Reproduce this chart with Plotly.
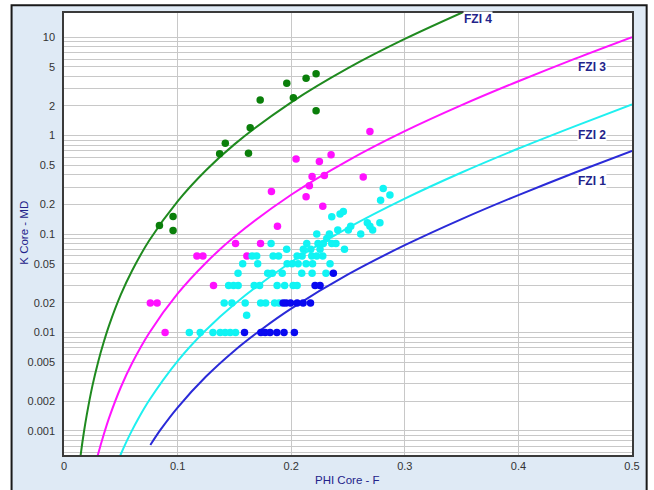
import plotly.graph_objects as go
import math

# ---- FZI reference curves ----
phi_fzi4 = [0.012, 0.015, 0.0175, 0.02, 0.025, 0.03, 0.035, 0.04, 0.05, 0.06, 0.075, 0.1, 0.125, 0.15, 0.2, 0.25, 0.3, 0.35, 0.36]
k_fzi4 = [0.00031, 0.00061, 0.00097, 0.00145, 0.00287, 0.0050, 0.0080, 0.0121, 0.0242, 0.0426, 0.086, 0.215, 0.445, 0.815, 2.18, 4.85, 9.6, 17.7, 19.9]

phi_fzi3 = [0.028, 0.03, 0.035, 0.04, 0.05, 0.06, 0.075, 0.1, 0.125, 0.15, 0.2, 0.25, 0.3, 0.35, 0.4, 0.45, 0.5]
k_fzi3 = [0.00047, 0.00058, 0.00092, 0.00139, 0.00278, 0.0049, 0.0099, 0.0248, 0.0512, 0.0938, 0.251, 0.558, 1.11, 2.04, 3.57, 6.05, 10.0]

phi_fzi2 = [0.045, 0.05, 0.055, 0.06, 0.065, 0.075, 0.1, 0.125, 0.15, 0.2, 0.25, 0.3, 0.35, 0.4, 0.45, 0.5]
k_fzi2 = [0.00042, 0.00058, 0.00078, 0.00102, 0.00131, 0.00205, 0.00513, 0.0106, 0.0194, 0.052, 0.1155, 0.229, 0.422, 0.739, 1.25, 2.08]

phi_fzi1 = [0.076, 0.085, 0.1, 0.125, 0.15, 0.175, 0.2, 0.25, 0.3, 0.35, 0.4, 0.45, 0.5]
k_fzi1 = [0.00072, 0.00103, 0.00173, 0.00357, 0.00654, 0.0110, 0.0175, 0.0389, 0.0771, 0.142, 0.249, 0.422, 0.70]

# ---- core samples ----
green_phi = [0.084, 0.096, 0.096, 0.137, 0.142, 0.1624, 0.1639, 0.1727, 0.1961, 0.2019, 0.2131, 0.2219, 0.2219]
green_k = [0.122, 0.151, 0.109, 0.653, 0.836, 0.663, 1.20, 2.30, 3.41, 2.42, 3.83, 4.26, 1.79]

magenta_phi = [0.076, 0.082, 0.089, 0.117, 0.1223, 0.1316, 0.151, 0.161, 0.173, 0.1826, 0.1879, 0.2043,
               0.2131, 0.216, 0.2184, 0.2248, 0.2278, 0.2292, 0.2351, 0.2634, 0.2693]
magenta_k = [0.020, 0.020, 0.010, 0.060, 0.060, 0.030, 0.080, 0.060, 0.080, 0.27, 0.12, 0.58,
             0.24, 0.31, 0.385, 0.546, 0.192, 0.394, 0.638, 0.379, 1.10]

cyan_phi = [0.1103, 0.1199, 0.1311, 0.1375, 0.1419, 0.1463, 0.151,
            0.1608,
            0.141, 0.1478, 0.1595, 0.1731, 0.1775, 0.1854, 0.1894,
            0.1449, 0.1492, 0.1533, 0.1674, 0.1722, 0.1876, 0.1942, 0.2017, 0.2052,
            0.1532, 0.1793, 0.1834, 0.1921, 0.2093, 0.2184, 0.2306,
            0.1573, 0.1705, 0.1964, 0.2008, 0.2061, 0.2131, 0.2188, 0.2342,
            0.1656, 0.1696, 0.1841, 0.1889, 0.2052, 0.2096, 0.2181, 0.2225, 0.2278,
            0.196, 0.2107, 0.2172, 0.2254, 0.2469,
            0.1823, 0.2137, 0.2236, 0.2283, 0.2357, 0.2394,
            0.2313,
            0.2225, 0.2336, 0.2612,
            0.241, 0.2503, 0.2717,
            0.2524, 0.2693,
            0.267, 0.2781,
            0.2357, 0.243, 0.2459, 0.2787, 0.2869, 0.281]
cyan_k = [0.01, 0.01, 0.01, 0.01, 0.01, 0.01, 0.01,
          0.015,
          0.02, 0.02, 0.02, 0.02, 0.02, 0.02, 0.02,
          0.03, 0.03, 0.03, 0.03, 0.03, 0.03, 0.03, 0.03, 0.03,
          0.04, 0.04, 0.04, 0.04, 0.04, 0.04, 0.04,
          0.05, 0.05, 0.05, 0.05, 0.05, 0.05, 0.05, 0.05,
          0.06, 0.06, 0.06, 0.06, 0.06, 0.06, 0.06, 0.06, 0.06,
          0.07, 0.07, 0.07, 0.07, 0.07,
          0.08, 0.08, 0.08, 0.08, 0.08, 0.08,
          0.09,
          0.10, 0.10, 0.10,
          0.11, 0.11, 0.11,
          0.12, 0.12,
          0.13, 0.13,
          0.15, 0.16, 0.17, 0.22, 0.25, 0.29]

blue_phi = [0.1589, 0.1733, 0.1771, 0.1814, 0.1874, 0.1937, 0.2028,
            0.1929, 0.1955, 0.1994, 0.2052, 0.2105, 0.2170,
            0.221, 0.2254, 0.2371]
blue_k = [0.01, 0.01, 0.01, 0.01, 0.01, 0.01, 0.01,
          0.02, 0.02, 0.02, 0.02, 0.02, 0.02,
          0.03, 0.03, 0.04]

curve_labels = ["FZI 4", "FZI 3", "FZI 2", "FZI 1"]
label_phi = [0.351, 0.4516, 0.4516, 0.4516]
label_k = [15.2, 4.98, 1.02, 0.343]

x_tick_vals = [0, 0.1, 0.2, 0.3, 0.4, 0.5]
x_tick_text = ["0", "0.1", "0.2", "0.3", "0.4", "0.5"]
y_labelled = [0.001, 0.002, 0.005, 0.01, 0.02, 0.05, 0.1, 0.2, 0.5, 1, 2, 5, 10]
y_label_text = ["0.001", "0.002", "0.005", "0.01", "0.02", "0.05", "0.1", "0.2", "0.5", "1", "2", "5", "10"]

FONT = "Liberation Sans, Arial, sans-serif"
NAVY = "#23238a"

fig = go.Figure()

curve_styles = [("#1f8a1f", phi_fzi4, k_fzi4), ("#ff14ff", phi_fzi3, k_fzi3),
                ("#1ff0f0", phi_fzi2, k_fzi2), ("#2a2ad8", phi_fzi1, k_fzi1)]
for col, px, ky in curve_styles:
    fig.add_trace(go.Scatter(x=px, y=ky, mode="lines",
                             line=dict(color=col, width=2, shape="spline", smoothing=0.8),
                             hoverinfo="skip", showlegend=False))

point_styles = [("#0a7f0a", green_phi, green_k), ("#ff10ff", magenta_phi, magenta_k),
                ("#10f4f4", cyan_phi, cyan_k), ("#0808f0", blue_phi, blue_k)]
for col, px, ky in point_styles:
    fig.add_trace(go.Scatter(x=px, y=ky, mode="markers",
                             marker=dict(color=col, size=7.5, line=dict(width=0)),
                             showlegend=False, cliponaxis=True))

# y-axis ticks: gridline at every integer multiple per decade, labels at 1,2,5
y_grid = []
y_text = []
for dec in range(-4, 2):
    for m in range(1, 10):
        v = round(m * 10 ** dec, 6)
        if 0.00055 <= v <= 18:
            y_grid.append(v)
            if v in y_labelled:
                y_text.append(y_label_text[y_labelled.index(v)])
            else:
                y_text.append("")

annotations = []
for t, xv, yv in zip(curve_labels, label_phi, label_k):
    annotations.append(dict(x=xv, y=math.log10(yv), xref="x", yref="y", text="<b>" + t + "</b>",
                            showarrow=False, xanchor="left", yanchor="middle",
                            font=dict(family=FONT, size=12, color=NAVY),
                            bgcolor="white", borderpad=0))
annotations.append(dict(x=0.4984, y=-0.056, xref="paper", yref="paper", text="PHI Core - F",
                        showarrow=False, xanchor="center", yanchor="middle",
                        font=dict(family=FONT, size=11.5, color=NAVY)))
annotations.append(dict(x=-0.0694, y=0.502, xref="paper", yref="paper", text="K Core - MD",
                        showarrow=False, xanchor="center", yanchor="middle", textangle=-90,
                        font=dict(family=FONT, size=11.5, color=NAVY)))

shapes = [
    dict(type="rect", xref="paper", yref="paper", x0=-0.2, x1=-0.0923, y0=-0.2, y1=1.2,
         fillcolor="white", line=dict(width=0), layer="above"),
    dict(type="rect", xref="paper", yref="paper", x0=-0.2, x1=1.2, y0=1.0173, y1=1.2,
         fillcolor="white", line=dict(width=0), layer="above"),
    dict(type="rect", xref="paper", yref="paper", x0=1.0258, x1=1.2, y0=-0.2, y1=1.2,
         fillcolor="white", line=dict(width=0), layer="above"),
    dict(type="rect", xref="paper", yref="paper", x0=-0.0923, x1=1.0258, y0=-0.12, y1=1.0173,
         fillcolor="rgba(0,0,0,0)", line=dict(color="#1a1a1a", width=2), layer="above"),
]

fig.update_layout(
    width=654, height=490,
    margin=dict(l=64, r=22, t=11, b=35),
    paper_bgcolor="#dfeaf5",
    plot_bgcolor="white",
    font=dict(family=FONT, size=11, color="#333333"),
    annotations=annotations,
    shapes=shapes,
    xaxis=dict(range=[0, 0.5], tickvals=x_tick_vals, ticktext=x_tick_text,
               showgrid=True, gridcolor="#c8c8c8", gridwidth=1, zeroline=False,
               showline=True, linecolor="#3a3a3a", linewidth=1.5, mirror=True,
               ticks="", tickfont=dict(family=FONT, size=11, color="#333333")),
    yaxis=dict(type="log", range=[math.log10(0.00057), math.log10(17.6)],
               tickvals=y_grid, ticktext=y_text,
               showgrid=True, gridcolor="#c8c8c8", gridwidth=1, zeroline=False,
               showline=True, linecolor="#3a3a3a", linewidth=1.5, mirror=True,
               ticks="", ticklabelstandoff=5,
               tickfont=dict(family=FONT, size=11, color="#333333")),
)

fig.write_html("out.html", config={"displayModeBar": False},
               post_script="document.body.style.margin='0';document.body.style.padding='0';")
